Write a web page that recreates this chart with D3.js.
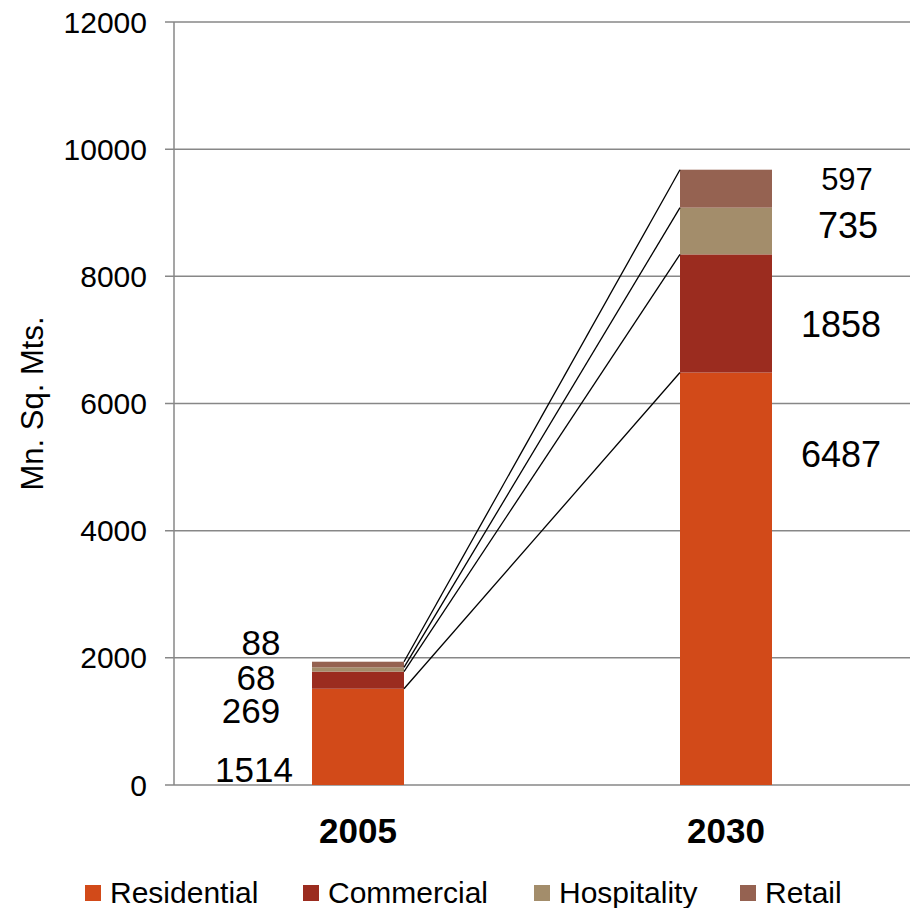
<!DOCTYPE html>
<html>
<head>
<meta charset="utf-8">
<script src="https://cdn.jsdelivr.net/npm/d3@7"></script>
<style>
  body { margin: 0; background: #fff; }
  text { font-family: Arial, "Liberation Sans", sans-serif; fill: #000; }
</style>
</head>
<body>
<svg id="chart" width="913" height="908"></svg>
<script>
const years = ["2005", "2030"];
const sectors = ["Residential", "Commercial", "Hospitality", "Retail"];
const colors = ["#d24a19", "#9b2c1f", "#a38d6b", "#956251"];
const residential = [1514, 6487];
const commercial = [269, 1858];
const hospitality = [68, 735];
const retail = [88, 597];
const yTicks = [0, 2000, 4000, 6000, 8000, 10000, 12000];
// where each label sits, in data units (the labels are placed freely, as in the source)
const labelAnchor2005 = [47, 975, 1494, 2045];
const labelAnchor2030 = [5001, 7046, 8603, 9358];

const svg = d3.select("#chart");
const width = 913, height = 908;
const margin = {top: 22, right: 3, bottom: 123, left: 174};
const plotW = width - margin.left - margin.right;
const plotH = height - margin.top - margin.bottom;

const g = svg.append("g").attr("transform", `translate(${margin.left},${margin.top})`);

const x = d3.scaleBand().domain(years).range([0, plotW]).paddingInner(0).paddingOuter(0);
const barW = x.bandwidth() * 0.25;
const y = d3.scaleLinear().domain([0, 12000]).range([plotH, 0]);

const rows = years.map((yr, i) => ({
  year: yr,
  Residential: residential[i],
  Commercial: commercial[i],
  Hospitality: hospitality[i],
  Retail: retail[i]
}));
const stacked = d3.stack().keys(sectors)(rows);

// grid lines
g.selectAll(".grid").data(yTicks).join("line")
  .attr("x1", -9).attr("x2", plotW)
  .attr("y1", d => y(d)).attr("y2", d => y(d))
  .attr("stroke", "#878787").attr("stroke-width", 1.5);

// y axis line
g.append("line")
  .attr("x1", 0).attr("x2", 0)
  .attr("y1", 0).attr("y2", plotH)
  .attr("stroke", "#878787").attr("stroke-width", 1.5);

g.selectAll(".ytick").data(yTicks).join("text")
  .attr("x", -27)
  .attr("y", d => y(d))
  .attr("dy", "0.35em")
  .attr("text-anchor", "end")
  .style("font-size", "30px")
  .text(d => d);

// bars
const barX = yr => x(yr) + (x.bandwidth() - barW) / 2;
stacked.forEach((layer, k) => {
  g.selectAll(".seg" + k).data(layer).join("rect")
    .attr("x", d => barX(d.data.year))
    .attr("y", d => y(d[1]))
    .attr("width", barW)
    .attr("height", d => y(d[0]) - y(d[1]))
    .attr("fill", colors[k]);
});

// series lines joining the tops of each segment
stacked.forEach(layer => {
  g.append("line")
    .attr("x1", barX(years[0]) + barW)
    .attr("y1", y(layer[0][1]))
    .attr("x2", barX(years[1]))
    .attr("y2", y(layer[1][1]))
    .attr("stroke", "#000").attr("stroke-width", 1.3);
});

// value labels
const vals2005 = [residential[0], commercial[0], hospitality[0], retail[0]];
const vals2030 = [residential[1], commercial[1], hospitality[1], retail[1]];
g.selectAll(".lab2005").data(vals2005).join("text")
  .attr("x", (d, i) => barX(years[0]) - 56 + [-2, -5, 0, 5][i])
  .attr("y", (d, i) => y(labelAnchor2005[i]))
  .attr("text-anchor", "middle")
  .style("font-size", "35px")
  .text(d => d);
g.selectAll(".lab2030").data(vals2030).join("text")
  .attr("x", (d, i) => barX(years[1]) + barW + [69, 69, 76, 75][i])
  .attr("y", (d, i) => y(labelAnchor2030[i]))
  .attr("text-anchor", "middle")
  .style("font-size", (d, i) => i === 3 ? "31px" : "36px")
  .text(d => d);

// category labels
g.selectAll(".xlab").data(years).join("text")
  .attr("x", d => x(d) + x.bandwidth() / 2)
  .attr("y", plotH + 58)
  .attr("text-anchor", "middle")
  .style("font-size", "35px")
  .style("font-weight", "bold")
  .text(d => d);

// axis title
svg.append("text")
  .attr("transform", `translate(43,${margin.top + plotH / 2}) rotate(-90)`)
  .attr("text-anchor", "middle")
  .style("font-size", "31px")
  .text("Mn. Sq. Mts.");

// legend
const legendX = [85, 303, 534, 740];
const legend = svg.append("g").attr("transform", "translate(0,893)");
sectors.forEach((s, i) => {
  legend.append("rect")
    .attr("x", legendX[i]).attr("y", -8)
    .attr("width", 16).attr("height", 16)
    .attr("fill", colors[i]);
  legend.append("text")
    .attr("x", legendX[i] + 25).attr("y", 10)
    .style("font-size", "30px")
    .text(s);
});
</script>
</body>
</html>
